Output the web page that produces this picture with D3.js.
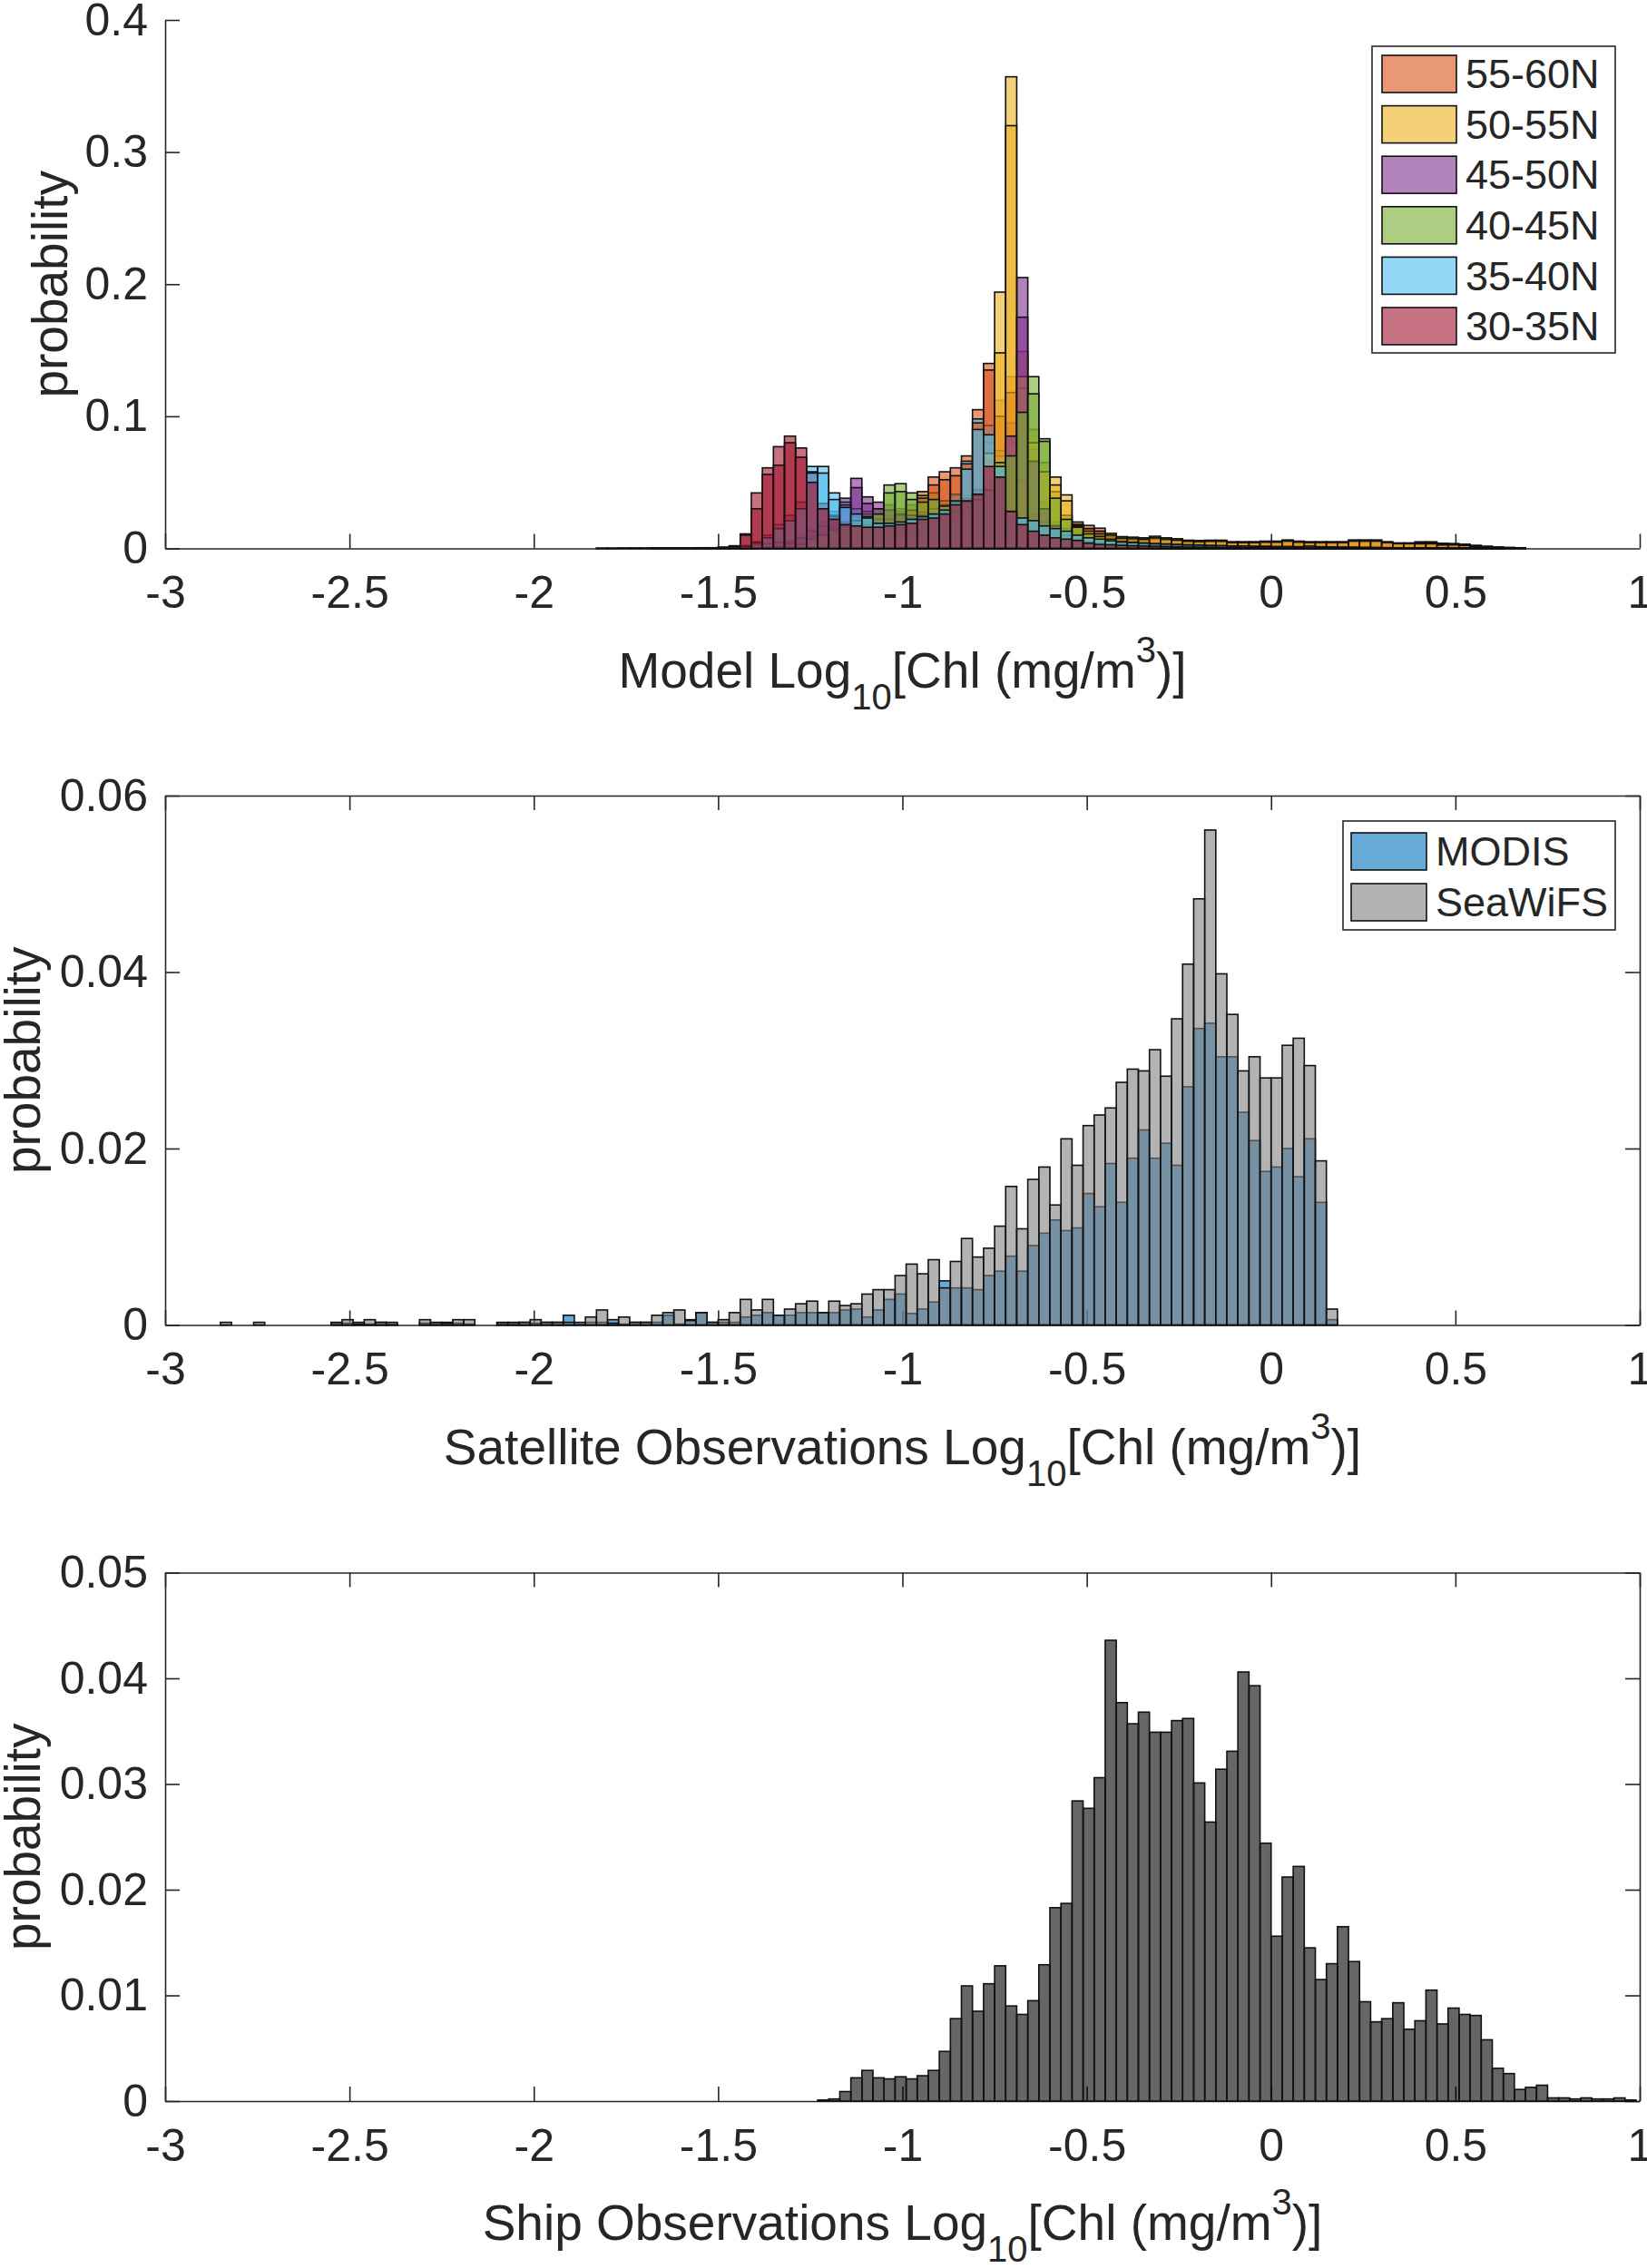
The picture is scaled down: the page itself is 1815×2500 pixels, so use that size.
<html>
<head>
    <meta charset="UTF-8" />
    <script src="https://d3js.org/d3.v7.min.js"></script>
    <style>
        body { margin: 0; background: white; }
        text { font-family: "Liberation Sans", Arial, Helvetica, sans-serif; fill: #262626; }
    </style>
</head>
<body>
<svg id="fig" width="1815" height="2500"></svg>
<script>
    // ---------- shared axis settings ----------
    const xDomain = [-3, 1];
    const xTicks = [-3, -2.5, -2, -1.5, -1, -0.5, 0, 0.5, 1];
    const binWidth = 0.03;

    // ---------- panel 1: model, six latitude bands (each band has two overlapping histograms) ----------
    const modelEdges = d3.range(84).map(i => -1.83 + i * binWidth);
    const modelTicks = [0, 0.1, 0.2, 0.3, 0.4];
    const bandLabels = ["55-60N", "50-55N", "45-50N", "40-45N", "35-40N", "30-35N"];
    const bandColors = ["#D95319", "#EDB120", "#7E2F8E", "#77AC30", "#4DBEEE", "#A2142F"];

    const m5560 = [
        0,0,0,0,0,0.0003,0.0003,0.0003,0.0003,0.0004,0.0005,0.0008,
        0.001,0.002,0.003,0.004,0.005,0.006,0.008,0.010,0.012,0.014,0.016,0.018,
        0.020,0.022,0.025,0.028,0.033,0.043,0.054,0.058,0.061,0.070,0.105,0.140,
        0.112,0.130,0.060,0.030,0.020,0.015,0.013,0.020,0.0174,0.0153,0.0105,0.008,
        0.0075,0.0072,0.008,0.0072,0.0065,0.0058,0.0055,0.0058,0.0058,0.0048,0.0048,0.0048,
        0.005,0.005,0.006,0.005,0.0048,0.0048,0.0048,0.0048,0.006,0.006,0.006,0.0048,
        0.004,0.004,0.005,0.005,0.0039,0.0037,0.0032,0.0023,0.0016,0.001,0.0007,0.0005];
    const m5560b = [
        0,0,0,0,0,0.0002,0.0002,0.0002,0.0002,0.0003,0.0004,0.0006,
        0.0008,0.0016,0.0025,0.0034,0.0042,0.005,0.007,0.0085,0.010,0.012,0.014,0.016,
        0.018,0.019,0.022,0.025,0.029,0.038,0.048,0.052,0.055,0.064,0.095,0.135,
        0.100,0.118,0.052,0.026,0.017,0.013,0.011,0.017,0.015,0.013,0.009,0.007,
        0.0065,0.0062,0.007,0.0062,0.0056,0.005,0.0048,0.005,0.005,0.0042,0.0042,0.0042,
        0.0044,0.0044,0.0052,0.0044,0.0042,0.0042,0.0042,0.0042,0.0052,0.0052,0.0052,0.0042,
        0.0035,0.0035,0.0044,0.0044,0.0034,0.0032,0.0028,0.002,0.0014,0.0009,0.0006,0.0004];

    const m5055 = [
        0,0,0,0,0,0,0,0,0,0,0,0,
        0,0,0,0,0,0,0,0,0.002,0.003,0.004,0.005,
        0.006,0.007,0.008,0.010,0.012,0.015,0.018,0.020,0.025,0.030,0.045,0.080,
        0.194,0.357,0.149,0.090,0.065,0.054,0.0405,0.018,0.015,0.013,0.0114,0.0089,
        0.0085,0.008,0.0092,0.008,0.0073,0.0062,0.006,0.0062,0.0062,0.005,0.005,0.005,
        0.0055,0.0055,0.0064,0.0055,0.005,0.005,0.005,0.005,0.0064,0.0064,0.0064,0.005,
        0.0041,0.0041,0.004,0.004,0.003,0.003,0.0025,0.0015,0.001,0.0006,0.0004,0.0002];
    const m5055b = [
        0,0,0,0,0,0,0,0,0,0,0,0,
        0,0,0,0,0,0,0,0,0.0015,0.0025,0.0035,0.0045,
        0.005,0.006,0.007,0.009,0.010,0.013,0.016,0.018,0.022,0.027,0.040,0.072,
        0.148,0.320,0.130,0.080,0.058,0.048,0.036,0.016,0.013,0.011,0.010,0.0078,
        0.0075,0.007,0.008,0.007,0.0064,0.0055,0.0052,0.0055,0.0055,0.0044,0.0044,0.0044,
        0.0048,0.0048,0.0056,0.0048,0.0044,0.0044,0.0044,0.0044,0.0056,0.0056,0.0056,0.0044,
        0.0036,0.0036,0.0035,0.0035,0.0026,0.0026,0.0022,0.0013,0.0009,0.0005,0.0003,0.0002];

    const m4550 = [
        0,0,0,0,0,0,0,0,0,0,0,0,
        0,0,0,0.001,0.002,0.004,0.010,0.015,0.020,0.028,0.038,0.053,
        0.039,0.035,0.033,0.030,0.028,0.028,0.030,0.030,0.032,0.035,0.040,0.050,
        0.060,0.095,0.205,0.075,0.035,0.020,0.012,0.008,0.006,0.005,0.004,0.0035,
        0.003,0.003,0.0028,0.0026,0.0024,0.0022,0.002,0.002,0.0018,0.0016,0.0015,0.0014,
        0.0013,0.0012,0.0012,0.0011,0.001,0.001,0.0009,0.0008,0.0008,0.0007,0.0006,0.0006,
        0.0005,0.0005,0.0004,0.0004,0.0003,0.0003,0.0002,0.0002,0.0001,0.0001,0,0];
    const m4550b = [
        0,0,0,0,0,0,0,0,0,0,0,0,
        0,0,0,0.0008,0.0016,0.0035,0.008,0.013,0.017,0.024,0.033,0.046,
        0.034,0.030,0.029,0.026,0.025,0.025,0.026,0.027,0.028,0.031,0.035,0.044,
        0.053,0.085,0.175,0.066,0.030,0.017,0.010,0.007,0.005,0.0044,0.0035,0.003,
        0.0026,0.0026,0.0024,0.0022,0.002,0.0019,0.0017,0.0017,0.0015,0.0014,0.0013,0.0012,
        0.0011,0.001,0.001,0.0009,0.0008,0.0008,0.0008,0.0007,0.0007,0.0006,0.0005,0.0005,
        0.0004,0.0004,0.0003,0.0003,0.0003,0.0002,0.0002,0.0002,0.0001,0.0001,0,0];

    const m4045 = [
        0,0,0,0,0,0,0,0,0,0,0,0,
        0,0,0,0,0,0,0.004,0.008,0.012,0.016,0.020,0.024,
        0.028,0.030,0.048,0.049,0.042,0.040,0.042,0.036,0.040,0.040,0.042,0.050,
        0.074,0.080,0.121,0.130,0.083,0.043,0.025,0.018,0.013,0.010,0.008,0.006,
        0.005,0.0045,0.004,0.0035,0.003,0.003,0.0025,0.002,0.002,0.0018,0.0016,0.0015,
        0.0014,0.0012,0.0012,0.001,0.001,0.0009,0.0008,0.0008,0.0007,0.0006,0.0006,0.0005,
        0.0005,0.0004,0.0004,0.0003,0.0003,0.0002,0.0002,0.0002,0.0001,0.0001,0,0];
    const m4045b = [
        0,0,0,0,0,0,0,0,0,0,0,0,
        0,0,0,0,0,0,0.003,0.007,0.010,0.014,0.017,0.021,
        0.024,0.026,0.042,0.043,0.037,0.035,0.037,0.032,0.035,0.035,0.037,0.044,
        0.065,0.070,0.103,0.117,0.081,0.038,0.022,0.016,0.011,0.009,0.007,0.005,
        0.0044,0.004,0.0035,0.003,0.0026,0.0026,0.0022,0.0017,0.0017,0.0016,0.0014,0.0013,
        0.0012,0.001,0.001,0.0009,0.0009,0.0008,0.0007,0.0007,0.0006,0.0005,0.0005,0.0004,
        0.0004,0.0003,0.0003,0.0003,0.0002,0.0002,0.0002,0.0002,0.0001,0.0001,0,0];

    const m3540 = [
        0,0,0,0,0,0,0,0,0,0,0,0,
        0,0.002,0.005,0.010,0.018,0.025,0.035,0.062,0.062,0.042,0.035,0.030,
        0.026,0.022,0.022,0.023,0.025,0.027,0.030,0.033,0.041,0.066,0.098,0.093,
        0.070,0.032,0.026,0.024,0.0195,0.0176,0.015,0.0114,0.009,0.008,0.0065,0.0055,
        0.005,0.0045,0.004,0.0038,0.0035,0.003,0.0028,0.0026,0.0024,0.002,0.002,0.0018,
        0.0018,0.0016,0.0016,0.0015,0.002,0.0014,0.0012,0.001,0.001,0.0008,0.0008,0.0006,
        0.0006,0.0005,0.0005,0.0004,0.0004,0.0003,0.0003,0.0002,0.0002,0.0001,0,0];
    const m3540b = [
        0,0,0,0,0,0,0,0,0,0,0,0,
        0,0.0015,0.004,0.008,0.015,0.021,0.030,0.057,0.057,0.037,0.031,0.026,
        0.023,0.019,0.019,0.020,0.022,0.024,0.026,0.029,0.036,0.060,0.090,0.086,
        0.062,0.028,0.023,0.021,0.017,0.015,0.013,0.010,0.008,0.007,0.0057,0.0048,
        0.0044,0.004,0.0035,0.0033,0.003,0.0026,0.0025,0.0023,0.0021,0.0018,0.0018,0.0016,
        0.0016,0.0014,0.0014,0.0013,0.0017,0.0012,0.001,0.0009,0.0009,0.0007,0.0007,0.0005,
        0.0005,0.0004,0.0004,0.0003,0.0003,0.0003,0.0002,0.0002,0.0002,0.0001,0,0];

    const m3035 = [
        0.0002,0.0002,0.0003,0.0003,0.0003,0.0003,0.0003,0.0004,0.0004,0.0005,0.0005,0.0008,
        0.002,0.011,0.042,0.061,0.077,0.085,0.076,0.058,0.034,0.025,0.020,0.019,
        0.018,0.017,0.018,0.019,0.021,0.024,0.025,0.028,0.035,0.038,0.044,0.066,
        0.058,0.030,0.019,0.014,0.011,0.009,0.008,0.0064,0.0046,0.0034,0.003,0.0026,
        0.0022,0.002,0.0018,0.0016,0.0014,0.0012,0.001,0.001,0.0008,0.0008,0.0007,0.0006,
        0.0006,0.0005,0.0005,0.0004,0.0004,0.0004,0.0004,0.0003,0.0003,0.0003,0.0003,0.0002,
        0.0002,0.0002,0.0002,0.0001,0.0001,0.0001,0.0001,0,0,0,0,0];
    const m3035b = [
        0.0001,0.0001,0.0002,0.0002,0.0002,0.0002,0.0002,0.0003,0.0003,0.0004,0.0004,0.0006,
        0.0015,0.010,0.030,0.056,0.063,0.080,0.069,0.050,0.030,0.022,0.018,0.017,
        0.016,0.016,0.017,0.018,0.019,0.022,0.023,0.026,0.033,0.036,0.041,0.062,
        0.054,0.028,0.018,0.013,0.010,0.008,0.007,0.006,0.004,0.003,0.0027,0.0023,
        0.002,0.0018,0.0016,0.0014,0.0012,0.001,0.0009,0.0009,0.0007,0.0007,0.0006,0.0005,
        0.0005,0.0004,0.0004,0.0004,0.0003,0.0003,0.0003,0.0003,0.0002,0.0002,0.0002,0.0002,
        0.0002,0.0001,0.0001,0.0001,0.0001,0.0001,0,0,0,0,0,0];

    const modelFirst = [m5560, m5055, m4550, m4045, m3540, m3035];
    const modelSecond = [m5560b, m5055b, m4550b, m4045b, m3540b, m3035b];

    // ---------- panel 2: satellite ----------
    const satEdges = d3.range(101).map(i => -2.85 + i * binWidth);
    const satTicks = [0, 0.02, 0.04, 0.06];
    const satLabels = ["MODIS", "SeaWiFS"];
    const satColors = ["#0072BD", "#808080"];
    const modis = [
        0,0,0,0,0,0,0,0,0,0,
        0.0002,0.0002,0.0003,0.0001,0.0003,0.0001,0,0,0.0002,0.0002,
        0.0003,0.0002,0.0001,0,0,0.0002,0.0002,0.0003,0.0002,0.0003,
        0.0003,0.0011,0.0001,0.0003,0.0003,0.0006,0.0001,0.0003,0.0003,0.0003,
        0.0011,0.0001,0.0006,0.0014,0.0003,0.0003,0.0003,0.0009,0.0011,0.0014,
        0.0011,0.0011,0.0014,0.0014,0.0014,0.0014,0.0017,0.0018,0.0009,0.0017,
        0.0029,0.0035,0.0013,0.0018,0.0026,0.0050,0.0042,0.0042,0.0040,0.0056,
        0.0061,0.0078,0.0061,0.0090,0.0104,0.0119,0.0107,0.0110,0.0149,0.0134,
        0.0183,0.0139,0.0189,0.0221,0.0189,0.0206,0.0181,0.0270,0.0336,0.0342,
        0.0304,0.0304,0.0241,0.0209,0.0174,0.0179,0.0200,0.0168,0.0211,0.0139,
        0.0006];
    const seawifs = [
        0.0003,0,0,0.0003,0,0,0,0,0,0,
        0.0003,0.0006,0.0001,0.0006,0.0003,0.0003,0,0,0.0006,0.0003,
        0.0002,0.0006,0.0006,0,0,0.0003,0.0003,0.0003,0.0006,0.0003,
        0.0003,0.0003,0.0003,0.0009,0.0017,0.0002,0.0009,0.0003,0.0003,0.0011,
        0.0014,0.0017,0.0005,0.0014,0.0003,0.0006,0.0014,0.0029,0.0017,0.0029,
        0.0011,0.0018,0.0024,0.0027,0.0014,0.0027,0.0022,0.0024,0.0035,0.0040,
        0.0040,0.0056,0.0069,0.0058,0.0074,0.0042,0.0072,0.0098,0.0077,0.0087,
        0.0112,0.0157,0.0109,0.0165,0.0179,0.0136,0.0211,0.0181,0.0226,0.0238,
        0.0246,0.0275,0.0290,0.0288,0.0312,0.0282,0.0347,0.0409,0.0483,0.0561,
        0.0398,0.0352,0.0288,0.0304,0.0280,0.0280,0.0317,0.0325,0.0294,0.0186,
        0.0018];

    // ---------- panel 3: ship ----------
    const shipEdges = d3.range(74).map(i => -1.23 + i * binWidth);
    const shipTicks = [0, 0.01, 0.02, 0.03, 0.04, 0.05];
    const ship = [
        0.0001,0.0002,0.0009,0.0022,0.0029,0.0022,0.0021,0.0023,0.0021,0.0024,
        0.0029,0.0047,0.0078,0.0109,0.0085,0.0111,0.0128,0.0090,0.0082,0.0095,
        0.0129,0.0183,0.0187,0.0284,0.0277,0.0306,0.0436,0.0377,0.0357,0.0368,
        0.0349,0.0349,0.0360,0.0362,0.0301,0.0264,0.0314,0.0331,0.0406,0.0393,
        0.0244,0.0156,0.0212,0.0222,0.0145,0.0115,0.0130,0.0165,0.0132,0.0094,
        0.0075,0.0078,0.0093,0.0068,0.0076,0.0105,0.0073,0.0088,0.0082,0.0081,
        0.0058,0.0031,0.0026,0.0011,0.0013,0.0015,0.0003,0.0003,0.0002,0.0003,
        0.0002,0.0002,0.0003,0.0001];

    // ---------- drawing ----------
    const svg = d3.select("#fig");
    const axLeft = 182, axRight = 1807;
    const axisColor = "#262626";

    function makePanel(top, bottom, ymax, yTicks, box, ylabX, xlabText) {
        const x = d3.scaleLinear().domain(xDomain).range([axLeft, axRight]);
        const y = d3.scaleLinear().domain([0, ymax]).range([bottom, top]);
        const axes = svg.append("g").style("color", axisColor);

        axes.append("g").attr("transform", "translate(0," + bottom + ")")
            .call(d3.axisBottom(x).tickValues(xTicks).tickFormat(d => String(d))
                .tickSizeInner(-16).tickSizeOuter(0).tickPadding(30));
        axes.append("g").attr("transform", "translate(" + axLeft + ",0)")
            .call(d3.axisLeft(y).tickValues(yTicks).tickFormat(d => String(d))
                .tickSizeInner(-16).tickSizeOuter(0).tickPadding(19));
        if (box) {
            axes.append("g").attr("transform", "translate(0," + top + ")")
                .call(d3.axisTop(x).tickValues(xTicks).tickFormat("").tickSizeInner(-16).tickSizeOuter(0));
            axes.append("g").attr("transform", "translate(" + axRight + ",0)")
                .call(d3.axisRight(y).tickValues(yTicks).tickFormat("").tickSizeInner(-16).tickSizeOuter(0));
        }
        axes.selectAll("g").attr("font-size", 50).attr("font-family", null);
        axes.selectAll("path.domain, line").attr("stroke-width", 1.6);

        svg.append("text")
            .attr("transform", "translate(" + ylabX + "," + (top + bottom) / 2 + ") rotate(-90)")
            .attr("text-anchor", "middle")
            .attr("font-size", 55)
            .text("probability");

        const xl = svg.append("text")
            .attr("x", (axLeft + axRight) / 2)
            .attr("y", bottom + 153)
            .attr("text-anchor", "middle")
            .attr("font-size", 55);
        xl.append("tspan").text(xlabText + "Log");
        xl.append("tspan").attr("font-size", 40).attr("dy", 24).text("10");
        xl.append("tspan").attr("dy", -24).text("[Chl (mg/m");
        xl.append("tspan").attr("font-size", 40).attr("dy", -28).text("3");
        xl.append("tspan").attr("dy", 28).text(")]");

        return { x: x, y: y };
    }

    function drawHist(p, edges, values, color) {
        svg.append("g").selectAll("rect")
            .data(values.map((v, i) => ({ x0: edges[i], v: v })).filter(d => d.v > 0))
            .join("rect")
            .attr("x", d => p.x(d.x0))
            .attr("width", d => p.x(d.x0 + binWidth) - p.x(d.x0))
            .attr("y", d => p.y(d.v))
            .attr("height", d => p.y(0) - p.y(d.v))
            .attr("fill", color)
            .attr("fill-opacity", 0.6)
            .attr("stroke", "#111")
            .attr("stroke-width", 1.6);
    }

    function drawLegend(bx, by, bw, bh, labels, colors, rowY0, rowStep, swX, swW, textX) {
        const lg = svg.append("g");
        lg.append("rect").attr("x", bx).attr("y", by).attr("width", bw).attr("height", bh)
            .attr("fill", "white").attr("stroke", axisColor).attr("stroke-width", 1.6);
        labels.forEach((lab, i) => {
            const cy = rowY0 + i * rowStep;
            lg.append("rect").attr("x", swX).attr("y", cy - 20).attr("width", swW).attr("height", 41)
                .attr("fill", colors[i]).attr("fill-opacity", 0.6)
                .attr("stroke", "#111").attr("stroke-width", 1.6);
            lg.append("text").attr("x", textX).attr("y", cy).attr("dy", "0.36em")
                .attr("font-size", 45).text(lab);
        });
    }

    // panel 1
    const p1 = makePanel(22, 604.5, 0.4, modelTicks, false, 74, "Model ");
    modelFirst.forEach((vals, k) => drawHist(p1, modelEdges, vals, bandColors[k]));
    modelSecond.forEach((vals, k) => drawHist(p1, modelEdges, vals, bandColors[k]));
    drawLegend(1512, 51, 268, 338, bandLabels, bandColors, 81, 55.6, 1523, 82, 1615);

    // panel 2
    const p2 = makePanel(877, 1460.5, 0.06, satTicks, true, 44, "Satellite Observations ");
    drawHist(p2, satEdges, modis, satColors[0]);
    drawHist(p2, satEdges, seawifs, satColors[1]);
    drawLegend(1480, 905, 300, 120, satLabels, satColors, 938, 56, 1489, 83, 1582);

    // panel 3
    const p3 = makePanel(1733.5, 2316, 0.05, shipTicks, true, 44, "Ship Observations ");
    drawHist(p3, shipEdges, ship, "#000000");
</script>
</body>
</html>
